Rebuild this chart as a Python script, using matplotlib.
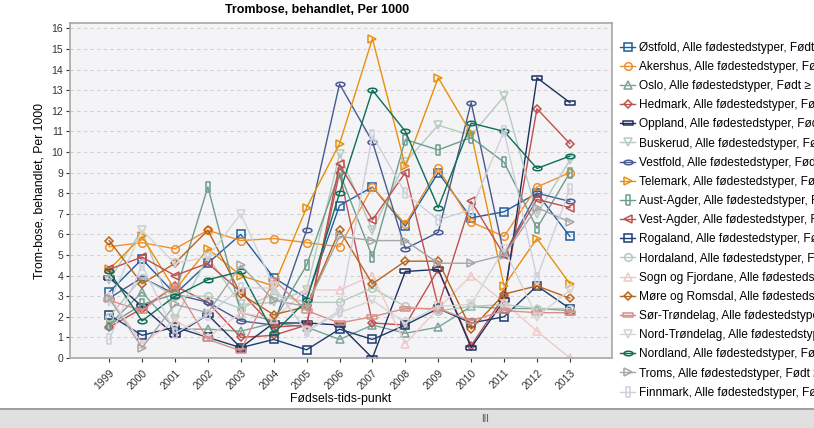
import numpy as np
import matplotlib as mpl
mpl.use('agg')
import matplotlib.pyplot as plt
from matplotlib.patches import Rectangle

plt.rcParams['font.family'] = ['Liberation Sans', 'DejaVu Sans']

## data
years = ['1999', '2000', '2001', '2002', '2003', '2004', '2005', '2006',
         '2007', '2008', '2009', '2010', '2011', '2012', '2013']

ostfold = [3.2, 4.8, 3.1, 4.6, 6.0, 3.9, 2.9, 7.4, 8.3, 6.4, 9.0, 6.8, 7.1, 8.0, 5.9]
akershus = [5.4, 5.6, 5.3, 6.2, 5.7, 5.8, 5.6, 5.4, 8.3, 6.5, 9.2, 6.6, 5.9, 8.3, 9.0]
oslo = [1.6, 3.2, 1.4, 1.4, 1.3, 1.7, 1.5, 0.9, 1.6, 1.2, 1.5, 2.5, 2.4, 2.4, 2.3]
hedmark = [1.5, 2.4, 3.5, 2.7, 1.0, 1.1, 1.6, 9.0, 1.7, 1.6, 4.3, 0.6, 3.0, 12.1, 10.4]
oppland = [3.9, 2.5, 1.1, 2.1, 0.5, 1.7, 1.7, 1.6, 0.0, 4.2, 4.3, 0.5, 2.8, 13.6, 12.4]
buskerud = [3.8, 6.2, 1.9, 4.9, 2.6, 2.7, 3.3, 9.9, 6.2, 9.5, 11.3, 10.8, 12.7, 7.0, 9.6]
vestfold = [2.9, 3.9, 3.1, 2.7, 1.8, 1.6, 6.2, 13.3, 10.5, 5.3, 6.1, 12.4, 5.0, 8.0, 7.6]
telemark = [4.3, 5.9, 3.3, 5.3, 4.0, 3.5, 7.3, 10.4, 15.5, 9.3, 13.6, 10.9, 3.5, 5.8, 3.6]
aust_agder = [1.6, 2.6, 3.1, 8.3, 2.2, 1.8, 4.5, 9.0, 4.9, 10.6, 10.1, 10.7, 9.5, 6.3, 9.0]
vest_agder = [4.3, 4.9, 4.0, 4.6, 3.2, 1.5, 1.6, 9.4, 6.7, 9.0, 2.5, 7.6, 5.0, 7.7, 7.3]
rogaland = [2.1, 1.1, 1.5, 1.0, 0.5, 0.9, 0.4, 1.4, 0.9, 1.6, 2.4, 1.7, 2.0, 3.5, 2.4]
hordaland = [2.0, 3.9, 3.0, 3.0, 2.4, 3.1, 2.7, 2.7, 3.4, 2.5, 2.3, 2.5, 2.6, 2.4, 2.4]
sogn = [3.0, 0.7, 1.8, 1.0, 2.2, 1.9, 3.3, 3.3, 4.0, 0.7, 2.4, 4.0, 2.7, 1.3, 0.0]
more = [5.7, 3.6, 4.6, 6.2, 3.1, 2.1, 2.5, 6.2, 3.6, 4.7, 4.7, 1.4, 3.1, 3.5, 2.9]
sor_trondelag = [2.8, 2.3, 3.5, 0.9, 0.35, 3.8, 2.3, 1.7, 2.0, 2.4, 2.4, 1.8, 2.3, 2.2, 2.2]
nord_trondelag = [2.7, 6.2, 4.6, 4.9, 7.0, 3.5, 1.3, 2.2, 2.8, 1.7, 2.5, 2.6, 5.3, 2.0, 3.3]
nordland = [4.2, 1.8, 3.0, 3.8, 4.2, 1.2, 2.8, 8.0, 13.0, 11.0, 7.3, 11.4, 11.0, 9.2, 9.8]
troms = [2.9, 0.5, 2.6, 2.2, 4.5, 2.8, 2.5, 5.9, 5.7, 5.7, 4.6, 4.6, 5.0, 7.3, 6.6]
finnmark = [0.9, 4.5, 1.2, 2.1, 3.4, 3.4, 1.3, 2.3, 10.8, 8.0, 6.7, 7.2, 11.0, 3.9, 8.2]

suffix = ', Alle fødestedstyper, Født ≥ 22 uker'
names = ['Østfold', 'Akershus', 'Oslo', 'Hedmark', 'Oppland', 'Buskerud',
         'Vestfold', 'Telemark', 'Aust-Agder', 'Vest-Agder', 'Rogaland',
         'Hordaland', 'Sogn og Fjordane', 'Møre og Romsdal', 'Sør-Trøndelag',
         'Nord-Trøndelag', 'Nordland', 'Troms', 'Finnmark']
series = [ostfold, akershus, oslo, hedmark, oppland, buskerud, vestfold,
          telemark, aust_agder, vest_agder, rogaland, hordaland, sogn, more,
          sor_trondelag, nord_trondelag, nordland, troms, finnmark]

## marker shapes
t = np.linspace(0, 2 * np.pi, 25)
hrect = [(-1, -0.45), (1, -0.45), (1, 0.45), (-1, 0.45), (-1, -0.45)]
vrect = [(-0.45, -1), (0.45, -1), (0.45, 1), (-0.45, 1), (-0.45, -1)]
hell = list(zip(np.cos(t), 0.5 * np.sin(t)))

styles = [
    ('#1f5fa0', 's', 5.5),
    ('#f0902a', 'o', 5.5),
    ('#7aa39a', '^', 5.5),
    ('#c0504d', 'D', 4.2),
    ('#1f2f5f', hrect, 6.5),
    ('#b5cbbf', 'v', 5.5),
    ('#4a5a90', hell, 6.5),
    ('#e8900c', '>', 5.5),
    ('#6e9c8c', vrect, 6.5),
    ('#c0504d', '<', 5.5),
    ('#1c3d6e', 's', 5.5),
    ('#b3cbbd', 'o', 5.5),
    ('#f0c8c8', '^', 5.5),
    ('#b8641a', 'D', 4.2),
    ('#d98e86', hrect, 6.5),
    ('#d4d4d4', 'v', 5.5),
    ('#0e6e55', hell, 6.5),
    ('#a6a6a6', '>', 5.5),
    ('#cfcfdc', vrect, 6.5),
]

fig = plt.figure(figsize=(8.14, 4.28), dpi=100)
ax = fig.add_axes([70 / 814, 1 - 358 / 428, 542 / 814, 335 / 428])
ax.set_facecolor('#f4f4f7')

x = np.arange(len(years))
for name, vals, (col, mk, ms) in zip(names, series, styles):
    ax.plot(x, vals, color=col, marker=mk, markersize=ms, linewidth=1.0,
            markerfacecolor='none', markeredgecolor=col, markeredgewidth=1.1,
            label=name + suffix)

ax.set_xlim(-1.19, 15.28)
ax.set_ylim(0, 16.26)
ax.set_yticks(range(0, 17))
ax.set_xticks(x)
ax.set_xticklabels(years, rotation=45, ha='right', rotation_mode='anchor')
ax.tick_params(labelsize=7.5, colors='#333333', length=3, pad=2)
ax.tick_params(axis='x', pad=4)
ax.yaxis.grid(True, color='#d0d0d0', linestyle=(0, (3, 3)), linewidth=0.8)
ax.set_axisbelow(True)
for s in ax.spines.values():
    s.set_color('#a8a8a8')
    s.set_linewidth(1.2)

fig.text(317 / 814, 1 - 10 / 428, 'Trombose, behandlet, Per 1000', fontsize=9,
         fontweight='bold', ha='center', va='center')
ax.set_ylabel('Trom-bose, behandlet, Per 1000', fontsize=8.8, labelpad=4)
ax.set_xlabel('Fødsels-tids-punkt', fontsize=8.8, labelpad=1)

fig.legend(loc='upper left', bbox_to_anchor=(615 / 814, 1 - 37 / 428),
           frameon=False, fontsize=8.6, handlelength=1.3, handletextpad=0.3,
           labelspacing=0.6, borderaxespad=0)

## scroll bar strip at the bottom
fig.patches.append(Rectangle((0, 0), 1, 18 / 428, transform=fig.transFigure,
                             facecolor='#e0e0e0', edgecolor='none'))
fig.patches.append(Rectangle((0, 18 / 428), 1, 2 / 428, transform=fig.transFigure,
                             facecolor='#a0a0a0', edgecolor='none'))
fig.text(485 / 814, 9 / 428, 'III', fontsize=7, color='#555555',
         ha='center', va='center')

fig.savefig('out.png', dpi=100)
